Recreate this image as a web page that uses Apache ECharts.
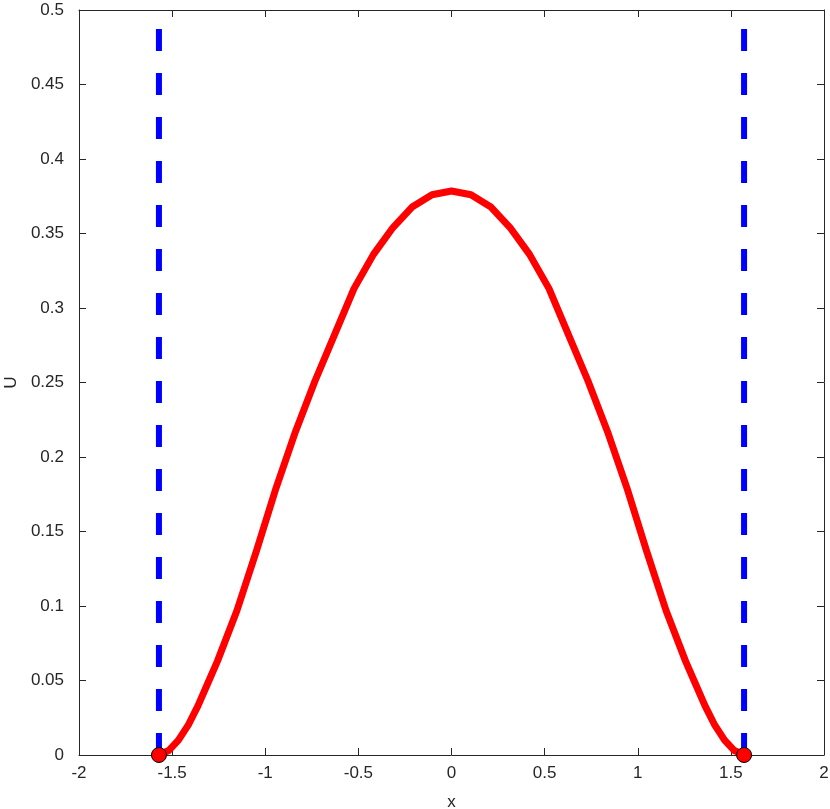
<!DOCTYPE html>
<html>
<head>
<meta charset="utf-8">
<script src="https://cdn.jsdelivr.net/npm/echarts@6/dist/echarts.min.js"></script>
<style>
  html, body { margin: 0; padding: 0; background: #fff; }
  #main { width: 830px; height: 809px; }
</style>
</head>
<body>
<div id="main"></div>
<script>
// data
var xVals = [-1.5708, -1.5184, -1.4661, -1.4137, -1.3614, -1.3090, -1.2566, -1.1519, -1.0472, -0.9425,
  -0.8378, -0.7330, -0.6283, -0.5236, -0.4189, -0.3142, -0.2094, -0.1047, 0, 0.1047, 0.2094,
  0.3142, 0.4189, 0.5236, 0.6283, 0.7330, 0.8378, 0.9425, 1.0472, 1.1519, 1.2566,
  1.3090, 1.3614, 1.4137, 1.4661, 1.5184, 1.5708];
var uVals = [0, 0.003, 0.010, 0.020, 0.033, 0.048, 0.063, 0.097, 0.137, 0.179,
  0.217, 0.251, 0.282, 0.313, 0.336, 0.354, 0.368, 0.376, 0.3785, 0.376, 0.368,
  0.354, 0.336, 0.313, 0.282, 0.251, 0.217, 0.179, 0.137, 0.097, 0.063,
  0.048, 0.033, 0.020, 0.010, 0.003, 0];
var wallX = [-1.5708, 1.5708];
var wallSpan = [0, 0.5];
var endPts = [[-1.5708, 0], [1.5708, 0]];

var curve = xVals.map(function (x, i) { return [x, uVals[i]]; });

var axisCol = '#262626';
var font = 'Liberation Sans, Arial, sans-serif';

var chart = echarts.init(document.getElementById('main'));

var series = [];
wallX.forEach(function (wx) {
  series.push({
    type: 'line',
    data: wallSpan.map(function (v) { return [wx, v]; }),
    showSymbol: false,
    lineStyle: { color: '#0000ff', width: 6, type: [22, 22], cap: 'butt' },
    silent: true
  });
});
series.push({
  type: 'line',
  data: curve,
  showSymbol: false,
  lineStyle: { color: '#ff0000', width: 7, join: 'round', cap: 'round' },
  z: 3
});
series.push({
  type: 'scatter',
  data: endPts,
  symbol: 'circle',
  symbolSize: 15,
  clip: false,
  itemStyle: { color: '#ff0000', borderColor: '#000', borderWidth: 1, opacity: 1 },
  z: 4
});

var option = {
  animation: false,
  backgroundColor: '#fff',
  grid: { left: 79, right: 6, top: 10, bottom: 54, containLabel: false, outerBoundsMode: 'none' },
  xAxis: [{
    type: 'value', min: -2, max: 2, interval: 0.5,
    name: 'x', nameLocation: 'middle', nameGap: 39,
    nameTextStyle: { color: axisCol, fontSize: 17, fontFamily: font },
    axisLine: { show: true, onZero: false, lineStyle: { color: axisCol, width: 1 } },
    axisTick: { show: true, inside: true, length: 7, lineStyle: { color: axisCol } },
    axisLabel: { color: axisCol, fontSize: 17, fontFamily: font, margin: 10 },
    splitLine: { show: false }
  }, {
    type: 'value', position: 'top', min: -2, max: 2, interval: 0.5,
    axisLine: { show: true, onZero: false, lineStyle: { color: axisCol, width: 1 } },
    axisTick: { show: true, inside: true, length: 7, lineStyle: { color: axisCol } },
    axisLabel: { show: false },
    splitLine: { show: false }
  }],
  yAxis: [{
    type: 'value', min: 0, max: 0.5, interval: 0.05,
    name: 'U', nameLocation: 'middle', nameGap: 59,
    nameTextStyle: { color: axisCol, fontSize: 17, fontFamily: font },
    axisLine: { show: true, onZero: false, lineStyle: { color: axisCol, width: 1 } },
    axisTick: { show: true, inside: true, length: 7, lineStyle: { color: axisCol } },
    axisLabel: { color: axisCol, fontSize: 17, fontFamily: font, margin: 15 },
    splitLine: { show: false }
  }, {
    type: 'value', position: 'right', min: 0, max: 0.5, interval: 0.05,
    axisLine: { show: true, onZero: false, lineStyle: { color: axisCol, width: 1 } },
    axisTick: { show: true, inside: true, length: 7, lineStyle: { color: axisCol } },
    axisLabel: { show: false },
    splitLine: { show: false }
  }],
  series: series
};
chart.setOption(option);
</script>
</body>
</html>
